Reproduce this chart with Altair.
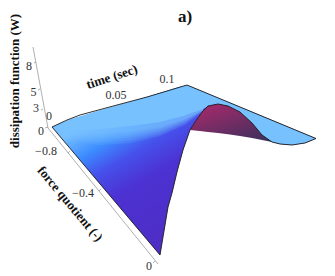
import altair as alt
import pandas as pd

FONT = "Liberation Serif"

# Picture-plane outline of the surface
base_x      = [52, 70, 100, 130, 160, 165, 168, 172, 177, 183, 190, 195, 202, 208, 218, 228, 240, 252, 262, 272, 280, 292, 305, 316]
base_top    = [127, 119.5, 110.5, 102, 93, 91.5, 90.5, 89, 87.5, 86, 86.2, 88.3, 91.2, 93.7, 97.9, 102, 107, 112, 116, 120.3, 123.6, 128.6, 134, 138.5]
base_bottom = [127, 148.3, 183.9, 219.4, 255, 225, 207, 193, 172, 150, 130, 122, 112, 106, 104, 106, 112, 123, 135, 142, 144, 145, 143, 138.5]

band_x      = [52, 70, 100, 130, 160, 185, 203]
band_top    = [127, 119.5, 110.5, 102, 93, 85.6, 91.6]
band_levels = [
    [127, 140, 145, 143, 136, 125, 111.5],
    [127, 138, 142.5, 140.5, 134, 123.5, 111],
    [127, 136, 140, 138, 132, 122, 110.8],
    [127, 134.5, 138, 136, 130.5, 121, 110.6],
    [127, 133, 136, 134, 129, 120, 110.4],
    [127, 132, 134.5, 132.5, 128, 119.5, 110.2],
    [127, 131, 133, 131, 127, 119, 110],
]

light_x      = [52, 70, 100, 130, 160, 185, 187, 203, 208, 218, 228, 240, 252, 262, 272, 280, 292, 305, 316]
light_top    = [127, 119.5, 110.5, 102, 93, 85.6, 85, 91.6, 93.7, 97.9, 102, 107, 112, 116, 120.3, 123.6, 128.6, 134, 138.5]
light_bottom = [127, 129, 129, 126, 122, 115.5, 114.5, 109, 106, 104, 106, 112, 123, 135, 142, 144, 145, 143, 138.5]

under_x      = [190, 195, 202, 208, 218, 228, 240, 252, 262, 272]
under_top    = [130, 122, 112, 106, 104, 106, 112, 123, 135, 142]
under_bottom = [130, 130.5, 131.3, 132, 133, 134.3, 136, 138, 140, 142]

edge_x = [52, 67, 80, 117, 147, 167, 187, 316, 305, 292, 280, 272, 262, 252, 240, 228, 218, 208, 202, 195, 190, 183, 177, 172, 168, 160, 52]
edge_y = [127, 120, 115, 105, 97, 91, 85, 138.5, 143, 145, 144, 142, 135, 123, 112, 106, 104, 106, 112, 122, 130, 150, 172, 193, 207, 255, 127]

axis_z_x = [33, 48]
axis_z_y = [47, 128]
axis_q_x = [48, 158]
axis_q_y = [128, 264]

tick_x1 = [34, 38, 41, 45, 70, 101, 155]
tick_y1 = [63, 90, 110, 128, 151, 189, 261]
tick_x2 = [36, 40, 43, 48, 68, 99, 153]
tick_y2 = [62, 89, 109, 127, 153, 191, 263]

tick_labels = ["8", "5", "3", "0", "0", "0.05", "0.1", "\u22120.8", "\u22120.4", "0"]
tick_lx = [29, 33.5, 36, 41, 49, 116, 167, 46, 83, 149]
tick_ly = [65.5, 92, 108, 131, 116, 95, 78.5, 151, 193, 266]

xs = alt.Scale(domain=[8, 327], range=[0, 319], nice=False, zero=False)
ys = alt.Scale(domain=[274, 8], range=[266, 0], nice=False, zero=False)
X = lambda f: alt.X(f, type="quantitative", scale=xs, axis=None)
Y = lambda f: alt.Y(f, type="quantitative", scale=ys, axis=None)


def area(xv, top, bottom, **kw):
    df = pd.DataFrame({"x": xv, "t": top, "b": bottom})
    return alt.Chart(df).mark_area(**kw).encode(X("x"), Y("t"), y2="b")


def grad(stops, x1, y1, x2, y2):
    return alt.Gradient(
        gradient="linear", x1=x1, y1=y1, x2=x2, y2=y2,
        stops=[alt.GradientStop(offset=o, color=c) for o, c in stops],
    )


base = area(base_x, base_top, base_bottom, fill=grad(
    [(0, "#78c1ff"), (0.18, "#3c8cff"), (0.33, "#4650eb"), (0.52, "#4c32d2"), (1, "#4e2dc3")],
    0.169, 0.188, 0.676, 0.753))
bands = [area(band_x, band_top, lv, fill="#78c3ff", opacity=0.18) for lv in band_levels]
light = area(light_x, light_top, light_bottom, fill="#78c1ff")
under = area(under_x, under_top, under_bottom, fill=grad(
    [(0, "#a02a6a"), (1, "#37305c")], 0.3, 0.0, 1.0, 1.0))

edge = alt.Chart(pd.DataFrame({"x": edge_x, "y": edge_y, "i": range(len(edge_x))})).mark_line(
    color="#1a1a1a", strokeWidth=0.9, strokeJoin="round"
).encode(X("x"), Y("y"), order="i:Q")

axes = [
    alt.Chart(pd.DataFrame({"x": axis_z_x[:1], "x2": axis_z_x[1:], "y": axis_z_y[:1], "y2": axis_z_y[1:]})),
    alt.Chart(pd.DataFrame({"x": axis_q_x[:1], "x2": axis_q_x[1:], "y": axis_q_y[:1], "y2": axis_q_y[1:]})),
    alt.Chart(pd.DataFrame({"x": tick_x1, "x2": tick_x2, "y": tick_y1, "y2": tick_y2})),
]
axes = [a.mark_rule(color="#9a9a9a", strokeWidth=0.8).encode(X("x"), Y("y"), x2="x2", y2="y2") for a in axes]

tick_text = alt.Chart(pd.DataFrame({"x": tick_lx, "y": tick_ly, "t": tick_labels})).mark_text(
    font=FONT, fontSize=12, color="#333333", align="center", baseline="middle"
).encode(X("x"), Y("y"), text="t:N")


def label(text, x, y, size, angle):
    return alt.Chart(pd.DataFrame({"x": [x], "y": [y], "t": [text]})).mark_text(
        font=FONT, fontSize=size, fontWeight="bold", color="#111111",
        align="center", baseline="middle", angle=angle
    ).encode(X("x"), Y("y"), text="t:N")


labels = [
    label("dissipation function (W)", 14.5, 81, 13, 270),
    label("time (sec)", 112, 77, 13, 342),
    label("force quotient (-)", 70, 204, 13, 50),
    label("a)", 185, 17, 17, 0),
]

chart = alt.layer(
    *axes, base, *bands, light, under, edge, tick_text, *labels
).properties(
    width=319, height=266, padding=0, autosize=alt.AutoSizeParams(type="none"), background="white"
).configure_view(stroke=None)

chart.save("out.html", embed_options={"renderer": "svg", "actions": False})
